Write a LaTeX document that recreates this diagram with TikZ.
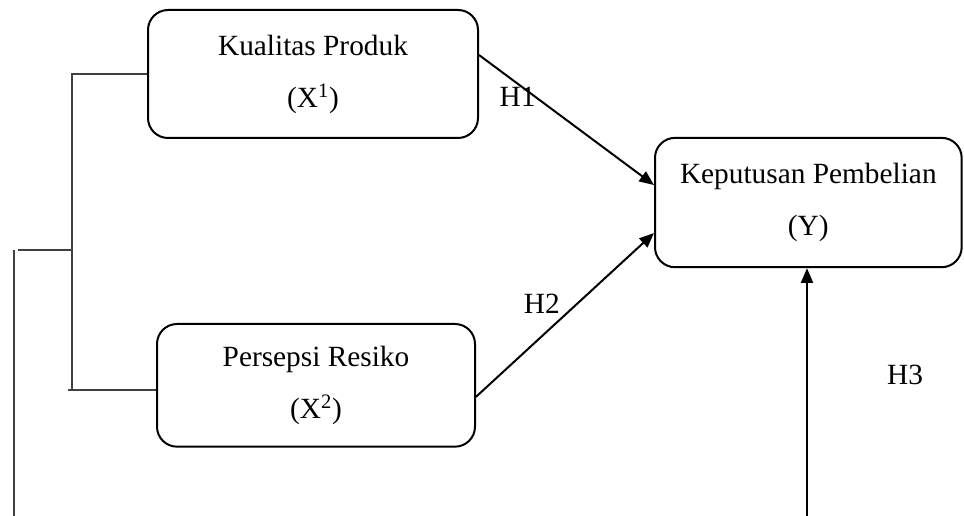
\documentclass[tikz,border=0pt]{standalone}
\usepackage{fontspec}
\setmainfont{Liberation Serif}
\usetikzlibrary{positioning,calc,arrows.meta}

\begin{document}
\begin{tikzpicture}[x=0.75pt,y=-0.75pt,>={Triangle[length=11pt,width=9pt]},line width=1.5pt,
  var node/.style={rectangle,draw,rounded corners=15pt,align=center,font=\fontsize{22}{39}\selectfont},
  link/.style={line width=0.8pt,black!75}]
\useasboundingbox (0,0) rectangle (964,516);
% nodes
  \node[var node,minimum width=247.5pt,minimum height=96pt] (kp) at (313,74) {Kualitas Produk\\(X\textsuperscript{1})};
  \node[var node,minimum width=238.5pt,minimum height=92pt] (pr) [below = 138pt of kp,xshift=2.25pt] {Persepsi Resiko\\(X\textsuperscript{2})};
  \node[var node,minimum width=230pt,minimum height=97pt] (kd) [right = 131.25pt of kp,yshift=-96.4pt] {Keputusan Pembelian\\(Y)};
  \coordinate (jt) at (72,74);
  \coordinate (jb) at (68,390);
  \coordinate (jm) at (72,250);
  \coordinate (lt) at (18,250);
  \coordinate (lb) at (14,516);
  \coordinate (h3) at (807,516);
  % bracket lines
  \draw[link] (kp.west) -- (jt) -- (jt |- jb);
  \draw[link] (jb) -- (pr.west |- jb);
  \draw[link] (jm) -- (lt);
  \draw[link] (lb |- lt) -- (lb);
  %edges
  \path[->,every node/.style={font=\fontsize{22}{26}\selectfont}]
    ($(kp.east)+(0,-19)$) edge node [pos=0.22,yshift=-10pt] {H1} ($(kd.west)+(0,-17.5)$)
    ($(pr.east)+(0,11.5)$) edge node [pos=0.46,xshift=-12pt,yshift=13pt] {H2} ($(kd.west)+(0,30.5)$)
    (h3) edge node [pos=0.57,xshift=73.5pt] {H3} (kd.south -| h3);
\end{tikzpicture}
\end{document}
